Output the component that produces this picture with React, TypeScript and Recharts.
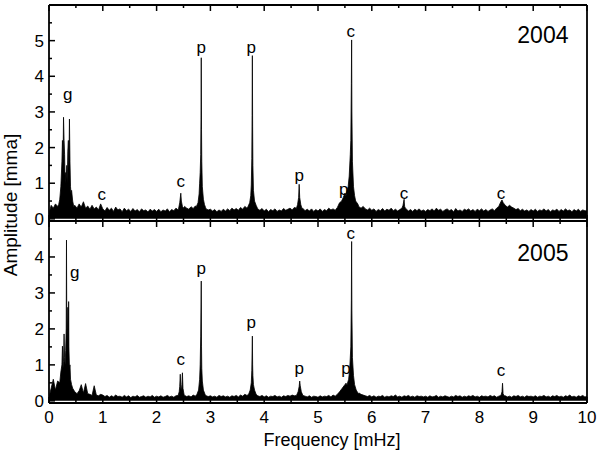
import React from "react";
import { AreaChart, Area, XAxis, YAxis, ReferenceDot } from "recharts";

// noise floor, one value every 0.04 mHz from 0 to 10 mHz
const STEP = 0.04;

const noise2004 = [
  0.15, 0.38, 0.3, 0.42, 0.35, 0.5, 0.6, 0.6, 0.6, 0.6, 0.6, 0.45, 0.38, 0.3, 0.42, 0.33, 0.48, 0.3, 0.36, 0.27, 0.38, 0.28, 0.33, 0.25, 0.42,
  0.28, 0.22, 0.32, 0.24, 0.3, 0.21, 0.33, 0.25, 0.28, 0.2, 0.3, 0.23, 0.27, 0.21, 0.29, 0.22, 0.26, 0.2, 0.28, 0.23, 0.25, 0.19, 0.27, 0.22, 0.26,
  0.21, 0.27, 0.2, 0.25, 0.22, 0.28, 0.2, 0.26, 0.23, 0.3, 0.25, 0.33, 0.28, 0.35, 0.3, 0.27, 0.34, 0.29, 0.36, 0.3, 0.38, 0.3, 0.36, 0.28, 0.25,
  0.27, 0.22, 0.26, 0.2, 0.25, 0.21, 0.27, 0.22, 0.28, 0.23, 0.3, 0.25, 0.29, 0.24, 0.32, 0.27, 0.35, 0.3, 0.4, 0.34, 0.38, 0.32, 0.28, 0.24, 0.29,
  0.22, 0.27, 0.2, 0.26, 0.23, 0.28, 0.21, 0.25, 0.22, 0.29, 0.24, 0.27, 0.3, 0.25, 0.32, 0.28, 0.3, 0.26, 0.29, 0.23, 0.27, 0.22, 0.28, 0.21, 0.26,
  0.22, 0.28, 0.21, 0.26, 0.23, 0.3, 0.25, 0.28, 0.24, 0.32, 0.3, 0.36, 0.4, 0.45, 0.45, 0.5, 0.5, 0.45, 0.38, 0.34, 0.3, 0.35, 0.28, 0.25, 0.3,
  0.24, 0.28, 0.21, 0.26, 0.23, 0.29, 0.22, 0.27, 0.24, 0.3, 0.23, 0.27, 0.22, 0.26, 0.2, 0.25, 0.28, 0.22, 0.26, 0.21, 0.27, 0.23, 0.28, 0.22, 0.25,
  0.21, 0.26, 0.23, 0.28, 0.22, 0.3, 0.24, 0.27, 0.21, 0.25, 0.28, 0.23, 0.26, 0.2, 0.29, 0.22, 0.25, 0.21, 0.27, 0.24, 0.28, 0.22, 0.26, 0.21, 0.27,
  0.23, 0.28, 0.22, 0.26, 0.21, 0.25, 0.28, 0.23, 0.3, 0.32, 0.35, 0.4, 0.45, 0.42, 0.38, 0.33, 0.3, 0.26, 0.29, 0.23, 0.27, 0.22, 0.25, 0.21, 0.26,
  0.22, 0.27, 0.21, 0.25, 0.23, 0.28, 0.22, 0.26, 0.2, 0.25, 0.23, 0.27, 0.21, 0.26, 0.22, 0.28, 0.23, 0.25, 0.2, 0.26, 0.22, 0.27, 0.21, 0.25, 0.23,
  0.22,
];

const noise2005 = [
  0.1, 0.35, 0.6, 0.3, 0.55, 0.45, 0.5, 0.5, 0.5, 0.5, 0.5, 0.3, 0.25, 0.2, 0.28, 0.45, 0.22, 0.48, 0.2, 0.18, 0.15, 0.42, 0.16, 0.14, 0.18,
  0.16, 0.12, 0.15, 0.1, 0.14, 0.11, 0.16, 0.12, 0.13, 0.1, 0.15, 0.11, 0.14, 0.09, 0.13, 0.11, 0.15, 0.1, 0.12, 0.14, 0.1, 0.13, 0.11, 0.15, 0.1,
  0.13, 0.11, 0.14, 0.1, 0.12, 0.15, 0.11, 0.13, 0.1, 0.14, 0.12, 0.16, 0.13, 0.15, 0.12, 0.14, 0.11, 0.16, 0.13, 0.18, 0.15, 0.2, 0.17, 0.14, 0.12,
  0.14, 0.11, 0.13, 0.1, 0.15, 0.12, 0.14, 0.11, 0.13, 0.1, 0.14, 0.12, 0.15, 0.11, 0.16, 0.13, 0.18, 0.15, 0.22, 0.18, 0.2, 0.16, 0.14, 0.12, 0.15,
  0.11, 0.14, 0.1, 0.13, 0.12, 0.15, 0.11, 0.13, 0.1, 0.14, 0.12, 0.15, 0.13, 0.16, 0.14, 0.18, 0.16, 0.2, 0.15, 0.13, 0.11, 0.14, 0.1, 0.13, 0.12,
  0.1, 0.14, 0.11, 0.13, 0.12, 0.15, 0.11, 0.16, 0.13, 0.18, 0.16, 0.22, 0.25, 0.3, 0.35, 0.4, 0.4, 0.35, 0.28, 0.22, 0.18, 0.16, 0.14, 0.12, 0.15,
  0.11, 0.14, 0.1, 0.13, 0.12, 0.15, 0.1, 0.13, 0.11, 0.14, 0.12, 0.16, 0.11, 0.13, 0.1, 0.14, 0.12, 0.15, 0.11, 0.13, 0.1, 0.14, 0.12, 0.13, 0.11,
  0.13, 0.1, 0.14, 0.11, 0.12, 0.15, 0.1, 0.13, 0.11, 0.14, 0.12, 0.1, 0.13, 0.11, 0.15, 0.12, 0.14, 0.1, 0.13, 0.11, 0.14, 0.12, 0.15, 0.11, 0.13,
  0.1, 0.14, 0.12, 0.13, 0.11, 0.15, 0.12, 0.14, 0.1, 0.13, 0.15, 0.12, 0.14, 0.11, 0.13, 0.1, 0.14, 0.12, 0.15, 0.11, 0.13, 0.1, 0.14, 0.12, 0.13,
  0.11, 0.14, 0.1, 0.13, 0.12, 0.15, 0.11, 0.13, 0.1, 0.14, 0.12, 0.15, 0.11, 0.13, 0.1, 0.14, 0.12, 0.16, 0.11, 0.13, 0.1, 0.14, 0.12, 0.15, 0.11,
  0.12,
];

// peak profiles [freq mHz, amplitude mma]
const peaks2004 = [
  [[0.18, 0.4], [0.2, 0.55], [0.22, 0.9], [0.24, 1.6], [0.25, 2.2], [0.26, 1.5], [0.27, 2.85], [0.28, 2.2], [0.29, 1.8], [0.3, 1.0], [0.31, 1.3], [0.32, 1.1], [0.33, 1.5], [0.34, 1.0], [0.35, 1.9], [0.36, 2.2], [0.37, 1.4], [0.38, 2.8], [0.39, 1.6], [0.4, 0.9], [0.41, 0.7], [0.42, 0.8], [0.44, 0.5], [0.46, 0.35]],
  [[2.41, 0.3], [2.43, 0.45], [2.45, 0.72], [2.46, 0.5], [2.48, 0.35], [2.5, 0.3]],
  [[2.74, 0.35], [2.77, 0.45], [2.79, 0.7], [2.8, 1.0], [2.81, 1.3], [2.82, 1.8], [2.825, 2.8], [2.83, 4.52], [2.835, 2.5], [2.84, 1.6], [2.85, 0.9], [2.87, 0.55], [2.89, 0.4], [2.91, 0.32]],
  [[3.7, 0.35], [3.73, 0.45], [3.75, 0.65], [3.76, 0.95], [3.77, 1.7], [3.775, 2.9], [3.78, 4.58], [3.785, 2.6], [3.79, 1.5], [3.8, 0.8], [3.82, 0.5], [3.85, 0.38]],
  [[4.6, 0.3], [4.62, 0.4], [4.64, 0.6], [4.65, 0.97], [4.66, 0.6], [4.68, 0.4], [4.7, 0.3]],
  [[5.4, 0.45], [5.44, 0.5], [5.47, 0.6], [5.5, 0.72], [5.52, 0.65], [5.54, 0.8], [5.56, 0.9], [5.58, 1.2], [5.6, 1.8], [5.61, 2.2], [5.62, 3.8], [5.625, 5.02], [5.63, 3.0], [5.64, 1.6], [5.66, 0.9], [5.68, 0.65], [5.7, 0.5], [5.74, 0.42]],
  [[6.56, 0.3], [6.58, 0.38], [6.6, 0.55], [6.61, 0.35], [6.63, 0.28]],
  [[8.36, 0.35], [8.38, 0.42], [8.4, 0.48], [8.42, 0.53], [8.44, 0.46], [8.46, 0.42], [8.48, 0.38], [8.52, 0.33]],
];

const peaks2005 = [
  [[0.2, 0.5], [0.22, 0.8], [0.24, 1.0], [0.25, 1.52], [0.26, 0.9], [0.27, 1.1], [0.28, 1.86], [0.29, 1.2], [0.3, 1.0], [0.31, 1.4], [0.32, 2.0], [0.325, 4.47], [0.33, 2.3], [0.34, 1.6], [0.35, 2.6], [0.36, 1.2], [0.365, 2.76], [0.37, 1.5], [0.38, 0.9], [0.39, 1.0], [0.4, 0.6], [0.42, 0.45], [0.44, 0.35]],
  [[2.4, 0.15], [2.42, 0.25], [2.43, 0.4], [2.44, 0.74], [2.45, 0.35], [2.46, 0.3], [2.47, 0.45], [2.48, 0.78], [2.49, 0.35], [2.51, 0.18]],
  [[2.75, 0.18], [2.78, 0.3], [2.8, 0.6], [2.81, 1.0], [2.82, 1.8], [2.83, 3.33], [2.835, 1.5], [2.84, 0.9], [2.85, 0.55], [2.87, 0.3], [2.9, 0.18]],
  [[3.71, 0.18], [3.74, 0.3], [3.76, 0.5], [3.77, 0.85], [3.78, 1.8], [3.785, 1.0], [3.79, 0.7], [3.8, 0.45], [3.82, 0.3], [3.85, 0.18]],
  [[4.6, 0.15], [4.63, 0.25], [4.65, 0.4], [4.66, 0.55], [4.67, 0.42], [4.69, 0.25], [4.72, 0.15]],
  [[5.4, 0.25], [5.45, 0.35], [5.5, 0.45], [5.52, 0.49], [5.54, 0.45], [5.57, 0.6], [5.59, 0.9], [5.61, 1.5], [5.62, 2.8], [5.625, 4.43], [5.63, 2.5], [5.64, 1.2], [5.66, 0.7], [5.68, 0.45], [5.71, 0.3], [5.75, 0.2]],
  [[8.4, 0.15], [8.42, 0.25], [8.43, 0.49], [8.44, 0.2], [8.46, 0.14]],
];

const labels2004 = [
  { f: 0.35, a: 3.52, t: "g" },
  { f: 0.98, a: 0.7, t: "c" },
  { f: 2.45, a: 1.06, t: "c" },
  { f: 2.83, a: 4.83, t: "p" },
  { f: 3.76, a: 4.83, t: "p" },
  { f: 4.65, a: 1.23, t: "p" },
  { f: 5.48, a: 0.84, t: "p" },
  { f: 5.61, a: 5.28, t: "c" },
  { f: 6.6, a: 0.73, t: "c" },
  { f: 8.4, a: 0.73, t: "c" },
];

const labels2005 = [
  { f: 0.48, a: 3.58, t: "g" },
  { f: 2.45, a: 1.17, t: "c" },
  { f: 2.83, a: 3.69, t: "p" },
  { f: 3.76, a: 2.19, t: "p" },
  { f: 4.65, a: 0.92, t: "p" },
  { f: 5.52, a: 0.92, t: "p" },
  { f: 5.61, a: 4.67, t: "c" },
  { f: 8.4, a: 0.86, t: "c" },
];

const xTicks = [0, 0.5, 1, 1.5, 2, 2.5, 3, 3.5, 4, 4.5, 5, 5.5, 6, 6.5, 7, 7.5, 8, 8.5, 9, 9.5, 10];
const yTicks2004 = [0, 0.5, 1, 1.5, 2, 2.5, 3, 3.5, 4, 4.5, 5, 5.5];
const yTicks2005 = [0, 0.5, 1, 1.5, 2, 2.5, 3, 3.5, 4, 4.5];

const FONT = "'Liberation Sans', Arial, Helvetica, sans-serif";
const LEFT = 49;
const RIGHT = 587;

function buildSeries(noise: number[], groups: number[][][]) {
  const pts: { f: number; a: number }[] = [];
  noise.forEach((a, i) => {
    const f = +(i * STEP).toFixed(2);
    const inside = groups.some((g) => f >= g[0][0] && f <= g[g.length - 1][0]);
    if (!inside) pts.push({ f, a });
  });
  groups.forEach((g) => g.forEach(([f, a]) => pts.push({ f, a })));
  pts.sort((p, q) => p.f - q.f);
  return pts;
}

const isMajor = (v: number) => Math.abs(v - Math.round(v)) < 1e-6;

function makeTick(side: string, top: number, bottom: number, showText: boolean) {
  return (props: any) => {
    const v = props.payload.value;
    const len = isMajor(v) ? 6 : 3;
    const stroke = { stroke: "#000", strokeWidth: 1.5 };
    if (side === "left" || side === "right") {
      const y = props.y;
      const x0 = side === "left" ? LEFT : RIGHT;
      const x1 = side === "left" ? LEFT + len : RIGHT - len;
      return (
        <g>
          <line x1={x0} y1={y} x2={x1} y2={y} {...stroke} />
          {showText && isMajor(v) && (
            <text x={LEFT - 5} y={y + 6} textAnchor="end" fontSize={17} fontFamily={FONT} fill="#000">
              {v}
            </text>
          )}
        </g>
      );
    }
    const x = props.x;
    const y0 = side === "top" ? top : bottom;
    const y1 = side === "top" ? top + len : bottom - len;
    return (
      <g>
        <line x1={x} y1={y0} x2={x} y2={y1} {...stroke} />
        {showText && isMajor(v) && (
          <text x={x} y={bottom + 20} textAnchor="middle" fontSize={17} fontFamily={FONT} fill="#000">
            {v}
          </text>
        )}
      </g>
    );
  };
}

function textLabel(value: string, size: number) {
  return (props: any) => {
    const vb = props.viewBox || {};
    const cx = vb.x + (vb.width || 0) / 2;
    const cy = vb.y + (vb.height || 0) / 2;
    return (
      <text x={cx} y={cy + size * 0.36} textAnchor="middle" fontSize={size} fontFamily={FONT} fill="#000">
        {value}
      </text>
    );
  };
}

type PanelProps = {
  noise: number[];
  peaks: number[][][];
  labels: { f: number; a: number; t: string }[];
  yMin: number;
  yMax: number;
  yTicks: number[];
  year: string;
  yearAmp: number;
  height: number;
  marginBottom: number;
  showX: boolean;
};

function Panel(p: PanelProps) {
  const data = buildSeries(p.noise, p.peaks);
  const top = 5;
  const bottom = p.height - p.marginBottom;
  const axisLine = { stroke: "#000", strokeWidth: 1.8 };
  return (
    <AreaChart width={600} height={p.height} data={data}
      margin={{ top: top - 1, right: 600 - RIGHT - 1, bottom: p.marginBottom - 1, left: LEFT - 1 }}>
      <XAxis xAxisId="b" dataKey="f" type="number" domain={[0, 10]} ticks={xTicks} interval={0} height={1}
        axisLine={axisLine} tickLine={false} tick={makeTick("bottom", top, bottom, p.showX)} allowDataOverflow />
      <XAxis xAxisId="t" orientation="top" dataKey="f" type="number" domain={[0, 10]} ticks={xTicks} interval={0} height={1}
        axisLine={axisLine} tickLine={false} tick={makeTick("top", top, bottom, false)} />
      <YAxis yAxisId="l" type="number" domain={[p.yMin, p.yMax]} ticks={p.yTicks} interval={0} width={1}
        axisLine={axisLine} tickLine={false} tick={makeTick("left", top, bottom, true)} allowDataOverflow />
      <YAxis yAxisId="r" orientation="right" type="number" domain={[p.yMin, p.yMax]} ticks={p.yTicks} interval={0} width={1}
        axisLine={axisLine} tickLine={false} tick={makeTick("right", top, bottom, false)} />
      <Area xAxisId="b" yAxisId="l" type="linear" dataKey="a" stroke="#000" strokeWidth={0.8} fill="#000" fillOpacity={1}
        baseValue={0} dot={false} activeDot={false} isAnimationActive={false} />
      {p.labels.map((l, i) => (
        <ReferenceDot key={i} xAxisId="b" yAxisId="l" x={l.f} y={l.a} r={1} fill="none" stroke="none"
          label={{ content: textLabel(l.t, 17) }} />
      ))}
      <ReferenceDot xAxisId="b" yAxisId="l" x={9.18} y={p.yearAmp} r={1} fill="none" stroke="none"
        label={{ content: textLabel(p.year, 23) }} />
    </AreaChart>
  );
}

export default function App() {
  return (
    <div style={{ position: "absolute", left: 0, top: 0, width: 600, height: 452, background: "#fff", fontFamily: FONT }}>
      <div style={{ position: "absolute", left: 0, top: 216 }}>
        <Panel noise={noise2005} peaks={peaks2005} labels={labels2005} yMin={-0.06} yMax={5.0} yTicks={yTicks2005}
          year="2005" yearAmp={4.12} height={236} marginBottom={49} showX={true} />
      </div>
      <div style={{ position: "absolute", left: 0, top: 0 }}>
        <Panel noise={noise2004} peaks={peaks2004} labels={labels2004} yMin={-0.06} yMax={6.0} yTicks={yTicks2004}
          year="2004" yearAmp={5.18} height={232} marginBottom={11} showX={false} />
      </div>
      <svg width={600} height={452} style={{ position: "absolute", left: 0, top: 0, pointerEvents: "none" }}>
        <text transform="translate(17,205) rotate(-90)" textAnchor="middle" fontSize={19} fontFamily={FONT} fill="#000">
          Amplitude [mma]
        </text>
        <text x={332} y={446} textAnchor="middle" fontSize={18} fontFamily={FONT} fill="#000">
          Frequency [mHz]
        </text>
      </svg>
    </div>
  );
}
